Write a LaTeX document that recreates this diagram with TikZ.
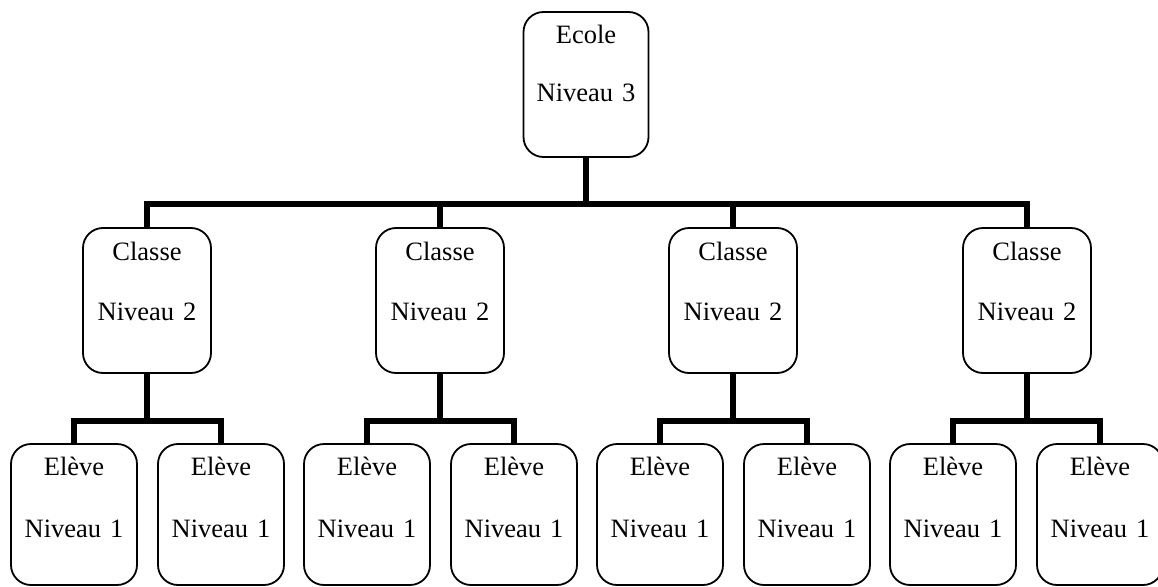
\documentclass[tikz,border=0pt]{standalone}
\usepackage{fontspec}
\setmainfont{Liberation Serif}
\usepackage{tikz}
\usetikzlibrary{positioning}

\begin{document}
\begin{tikzpicture}[x=1pt,y=-1pt,
	boite/.style={draw,line width=1.8pt,rounded corners=20pt,align=center,
		inner xsep=0pt,inner ysep=0pt,text height=32pt,text depth=113pt,
		font=\fontsize{26.5}{32}\selectfont},
	ecole/.style={boite,text width=125pt},
	classe/.style={boite,text width=128pt},
	eleve/.style={boite,text width=126pt,text height=31pt,text depth=110pt},
	lien/.style={line width=6pt}]
	\useasboundingbox (0,0) rectangle (1158,586);
	\clip (0,0) rectangle (1158,586);

		% niveau 3
		\node [ecole,name=E] at (586,84.5) {Ecole\\[26pt]Niveau 3};
		% niveau 2
		\node [classe,name=C1] at (147,300.5) {Classe\\[28pt]Niveau 2};
		\node [classe,name=C2] at (440,300.5) {Classe\\[28pt]Niveau 2};
		\node [classe,name=C3] at (733,300.5) {Classe\\[28pt]Niveau 2};
		\node [classe,name=C4] at (1027,300.5) {Classe\\[28pt]Niveau 2};
		% niveau 1
		\node [eleve,name=L1] at (74,514.5) {Elève\\[30pt]Niveau 1};
		\node [eleve,name=L2] at (221,514.5) {Elève\\[30pt]Niveau 1};
		\node [eleve,name=L3] at (367,514.5) {Elève\\[30pt]Niveau 1};
		\node [eleve,name=L4] at (514,514.5) {Elève\\[30pt]Niveau 1};
		\node [eleve,name=L5] at (660,514.5) {Elève\\[30pt]Niveau 1};
		\node [eleve,name=L6] at (807,514.5) {Elève\\[30pt]Niveau 1};
		\node [eleve,name=L7] at (953,514.5) {Elève\\[30pt]Niveau 1};
		\node [eleve,name=L8] at (1100,514.5) {Elève\\[30pt]Niveau 1};

		\coordinate (jE) at (E.south |- 0,204);
		\draw [lien] (E.south) -- (jE);
		\draw [lien] (C1.north) |- (jE) -| (C4.north);
		\draw [lien] (C2.north) -- (C2.north |- jE);
		\draw [lien] (C3.north) -- (C3.north |- jE);

		\coordinate (j1) at (C1.south |- 0,421);
		\draw [lien] (C1.south) -- (j1);
		\draw [lien] (L1.north) |- (j1) -| (L2.north);
		\coordinate (j2) at (C2.south |- 0,421);
		\draw [lien] (C2.south) -- (j2);
		\draw [lien] (L3.north) |- (j2) -| (L4.north);
		\coordinate (j3) at (C3.south |- 0,421);
		\draw [lien] (C3.south) -- (j3);
		\draw [lien] (L5.north) |- (j3) -| (L6.north);
		\coordinate (j4) at (C4.south |- 0,421);
		\draw [lien] (C4.south) -- (j4);
		\draw [lien] (L7.north) |- (j4) -| (L8.north);
\end{tikzpicture}
\end{document}
